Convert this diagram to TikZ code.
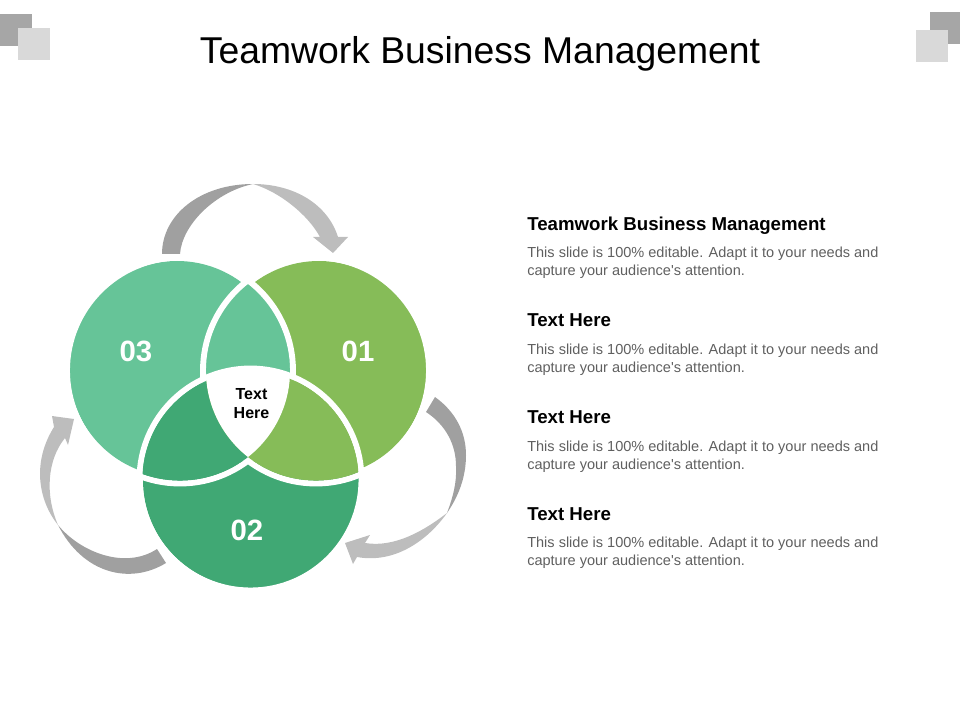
\documentclass[tikz,border=0pt]{standalone}
\usepackage{fontspec}
\setmainfont{Liberation Sans}
\newfontfamily\plainsans{Liberation Sans}
\definecolor{cA}{HTML}{86BC58}
\definecolor{cB}{HTML}{40A874}
\definecolor{cC}{HTML}{66C498}
\definecolor{grayD}{HTML}{A0A0A0}
\definecolor{grayL}{HTML}{BDBDBD}
\definecolor{sqD}{HTML}{A6A6A6}
\definecolor{sqL}{HTML}{D9D9D9}
\definecolor{bodyc}{HTML}{5F5F5F}
\tikzset{
  titletxt/.style={inner sep=0pt,font=\fontsize{28}{33}\selectfont,text=black},
  headtxt/.style={anchor=west,inner sep=0pt,font=\bfseries\fontsize{14}{16}\selectfont,text=black},
  bodytxt/.style={anchor=north west,inner sep=0pt,align=left,text=bodyc,font=\plainsans\fontsize{10.9}{13.4}\selectfont},
  numtxt/.style={inner sep=0pt,text=white,font=\bfseries\fontsize{22}{26}\selectfont},
  centertxt/.style={inner sep=0pt,align=center,text=black,font=\bfseries\fontsize{12}{14.4}\selectfont},
  ring/.style={draw=white,line width=4.4pt}
}
\def\rA{84.75pt}
\def\rB{83.25pt}
\def\rO{81pt}
\def\rAi{82.55pt}
\def\rBi{81.05pt}
\def\cirA{(316,370.5) circle [radius=\rA]}
\def\cirB{(250.5,479.5) circle [radius=\rB]}
\def\cirC{(180,370.5) circle [radius=\rA]}
\def\cirAi{(316,370.5) circle [radius=\rAi]}
\def\cirBi{(250.5,479.5) circle [radius=\rBi]}
\def\cirCi{(180,370.5) circle [radius=\rAi]}
\begin{document}
\begin{tikzpicture}[x=0.75pt,y=-0.75pt]
\useasboundingbox (0,0) rectangle (960,720);
% corner squares
\fill[sqD] (0,14) rectangle (32,46);
\fill[sqL] (18,28) rectangle (50,60);
\fill[sqD] (930,12) rectangle (960,44);
\fill[sqL] (916,30) rectangle (948,62);
% title
\node[titletxt] (title) at (480,54) {Teamwork Business Management};
% circles: visible outer discs
\fill[cB] (251,480) circle [radius=\rO];
\fill[cA] (319,369) circle [radius=\rO];
\fill[cC] (177,369) circle [radius=\rO];
% upper lens and white outlines
\begin{scope}\clip \cirA; \fill[cC] \cirC; \end{scope}
\draw[ring] \cirA;
\draw[ring] \cirB;
\draw[ring] \cirC;
% lower lenses reach the centre without an outline
\begin{scope}\clip \cirBi; \fill[cB] \cirCi; \end{scope}
\begin{scope}\clip \cirBi; \fill[cA] \cirAi; \end{scope}
\begin{scope}\clip \cirAi; \clip \cirCi; \fill[white] \cirB; \end{scope}
% top arrow
\fill[grayD] (162,254) .. controls (162,215) and (200,184) .. (253,184)
  .. controls (215,192) and (182,225) .. (180,254) -- cycle;
\fill[grayL] (253,184) .. controls (295,184) and (328,205) .. (338,237)
  -- (348,237) -- (333,253) -- (313,237) -- (320,237)
  .. controls (308,215) and (280,192) .. (253,184) -- cycle;
% right arrow
\fill[grayD] (435,397) .. controls (456,412) and (466,433) .. (466,455)
  .. controls (466,478) and (458,497) .. (447,513)
  .. controls (453,497) and (457,482) .. (456,466)
  .. controls (456,445) and (446,425) .. (426,412) -- cycle;
\fill[grayL] (447,513) .. controls (428,540) and (395,564) .. (357,557)
  -- (353,564) -- (345,543) -- (370,535) -- (365,543)
  .. controls (395,548) and (425,530) .. (447,513) -- cycle;
% left arrow
\fill[grayD] (166,563) .. controls (130,585) and (83,574) .. (58,525)
  .. controls (80,552) and (125,570) .. (157,549) -- cycle;
\fill[grayL] (58,525) .. controls (38,500) and (32,462) .. (54,427)
  -- (52,416) -- (74,419) -- (68,445) -- (65,438)
  .. controls (47,460) and (45,495) .. (58,525) -- cycle;
% labels
\node[numtxt] (n1) at (358,351) {01};
\node[numtxt] (n2) at (247,530) {02};
\node[numtxt] (n3) at (136,351) {03};
\node[centertxt] (ct) at (251.5,403.5) {Text\\Here};
% right column
\node[headtxt] (h1) at (527,226) {Teamwork Business Management};
\node[bodytxt] (b1) at (527,247) {This slide is 100\% editable. Adapt it to your needs and\\capture your audience's attention.};
\node[headtxt] (h2) at (527,320) {Text Here};
\node[bodytxt] (b2) at (527,344) {This slide is 100\% editable. Adapt it to your needs and\\capture your audience's attention.};
\node[headtxt] (h3) at (527,417) {Text Here};
\node[bodytxt] (b3) at (527,441) {This slide is 100\% editable. Adapt it to your needs and\\capture your audience's attention.};
\node[headtxt] (h4) at (527,514) {Text Here};
\node[bodytxt] (b4) at (527,537) {This slide is 100\% editable. Adapt it to your needs and\\capture your audience's attention.};
\end{tikzpicture}
\end{document}
